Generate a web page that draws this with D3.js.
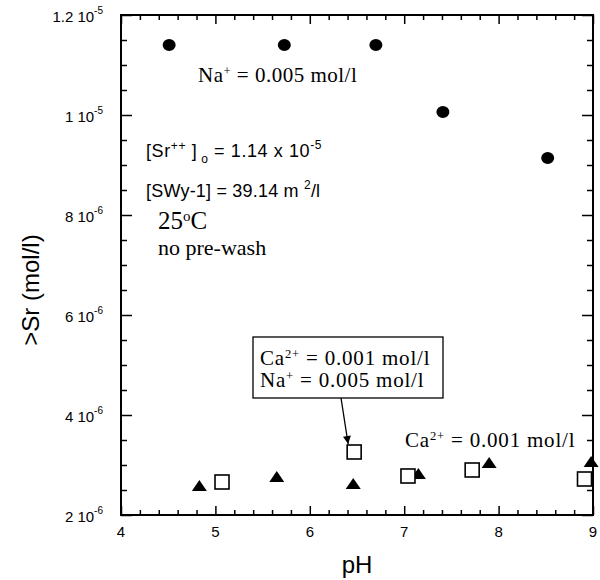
<!DOCTYPE html>
<html>
<head>
<meta charset="utf-8">
<script src="https://cdn.jsdelivr.net/npm/d3@7"></script>
<style>
  body { margin: 0; background: #fff; }
  text { fill: #000; }
</style>
</head>
<body>
<script>

// Na+ = 0.005 mol/l (filled circles)
var phCircle = [4.51, 5.73, 6.70, 7.41, 8.52];
var srCircle = [1.14e-5, 1.14e-5, 1.14e-5, 1.006e-5, 9.14e-6];

// Ca2+ = 0.001 mol/l (filled triangles)
var phTriangle = [4.83, 5.65, 6.46, 7.15, 7.90, 8.98];
var srTriangle = [2.58e-6, 2.76e-6, 2.62e-6, 2.82e-6, 3.04e-6, 3.06e-6];

// Ca2+ = 0.001 + Na+ = 0.005 (open squares)
var phSquare = [5.07, 6.47, 7.04, 7.72, 8.91];
var srSquare = [2.66e-6, 3.26e-6, 2.78e-6, 2.90e-6, 2.72e-6];

var xTicks = [4, 5, 6, 7, 8, 9];
var yTicks = [2e-6, 4e-6, 6e-6, 8e-6, 1e-5, 1.2e-5];
var yTickMant = ["2", "4", "6", "8", "1", "1.2"];
var yTickExp = ["-6", "-6", "-6", "-6", "-5", "-5"];

var margin = {top: 15, right: 7, bottom: 65, left: 121},
    width = 600 - margin.left - margin.right,
    height = 580 - margin.top - margin.bottom;

var sans = "'Liberation Sans', Arial, sans-serif";
var serif = "'Liberation Serif', 'Times New Roman', serif";

var x = d3.scaleLinear().domain([4, 9]).range([0, width]);
var y = d3.scaleLinear().domain([2e-6, 1.2e-5]).range([height, 0]);

var svg = d3.select("body").append("svg")
    .attr("width", 600)
    .attr("height", 580);

svg.append("defs").append("marker")
    .attr("id", "arrow")
    .attr("viewBox", "0 0 10 10")
    .attr("refX", 10).attr("refY", 5)
    .attr("markerWidth", 10).attr("markerHeight", 8)
    .attr("markerUnits", "userSpaceOnUse")
    .attr("orient", "auto")
  .append("path")
    .attr("d", "M0,0 L10,5 L0,10 Z")
    .attr("fill", "#000");

var g = svg.append("g")
    .attr("transform", "translate(" + margin.left + "," + margin.top + ")");

// minor tick values
var xMinor = d3.range(4, 9.001, 0.2).filter(function(v) { return Math.abs(v - Math.round(v)) > 1e-6; });
var yMinor = d3.range(2e-6, 1.2e-5 + 1e-12, 5e-7).filter(function(v) {
  return !yTicks.some(function(t) { return Math.abs(t - v) < 1e-12; });
});

function styleAxis(sel) {
  sel.select(".domain").remove();
  sel.selectAll("line").attr("stroke", "#000").attr("stroke-width", 1.5);
  sel.selectAll("text").remove();
}

// inward ticks on all four sides
g.append("g").attr("transform", "translate(0," + height + ")")
    .call(d3.axisBottom(x).tickValues(xTicks).tickSize(-9)).call(styleAxis);
g.append("g").attr("transform", "translate(0," + height + ")")
    .call(d3.axisBottom(x).tickValues(xMinor).tickSize(-5)).call(styleAxis);
g.append("g")
    .call(d3.axisTop(x).tickValues(xTicks).tickSize(-9)).call(styleAxis);
g.append("g")
    .call(d3.axisTop(x).tickValues(xMinor).tickSize(-5)).call(styleAxis);
g.append("g")
    .call(d3.axisLeft(y).tickValues(yTicks).tickSize(-11)).call(styleAxis);
g.append("g")
    .call(d3.axisLeft(y).tickValues(yMinor).tickSize(-6)).call(styleAxis);
g.append("g").attr("transform", "translate(" + width + ",0)")
    .call(d3.axisRight(y).tickValues(yTicks).tickSize(-11)).call(styleAxis);
g.append("g").attr("transform", "translate(" + width + ",0)")
    .call(d3.axisRight(y).tickValues(yMinor).tickSize(-6)).call(styleAxis);

g.append("rect")
    .attr("width", width).attr("height", height)
    .attr("fill", "none").attr("stroke", "#000").attr("stroke-width", 2);

// x tick labels
g.selectAll(".xlab").data(xTicks).enter().append("text")
    .attr("x", function(d) { return x(d); })
    .attr("y", height + 22)
    .attr("text-anchor", "middle")
    .attr("font-family", sans).attr("font-size", "15px")
    .text(function(d) { return d; });

// y tick labels with superscript exponents
var yl = g.selectAll(".ylab").data(yTicks).enter().append("text")
    .attr("x", -18)
    .attr("y", function(d) { return y(d) + 7; })
    .attr("text-anchor", "end")
    .attr("font-family", sans).attr("font-size", "15px");
yl.append("tspan").text(function(d, i) { return yTickMant[i] + " 10"; });
yl.append("tspan").attr("dy", -8).attr("font-size", "10px")
    .text(function(d, i) { return yTickExp[i]; });

// axis titles
g.append("text")
    .attr("x", width / 2)
    .attr("y", height + 58)
    .attr("text-anchor", "middle")
    .attr("font-family", sans).attr("font-size", "24px")
    .text("pH");

g.append("text")
    .attr("transform", "rotate(-90)")
    .attr("x", -height / 2 - 25)
    .attr("y", -82)
    .attr("text-anchor", "middle")
    .attr("font-family", sans).attr("font-size", "24px")
    .text(">Sr (mol/l)");

// markers
g.selectAll(".circ").data(phCircle).enter().append("ellipse")
    .attr("cx", function(d) { return x(d); })
    .attr("cy", function(d, i) { return y(srCircle[i]); })
    .attr("rx", 6.5).attr("ry", 6)
    .attr("fill", "#000");

g.selectAll(".tri").data(phTriangle).enter().append("path")
    .attr("transform", function(d, i) { return "translate(" + x(d) + "," + y(srTriangle[i]) + ")"; })
    .attr("d", "M0,-6 L7.5,5 L-7.5,5 Z")
    .attr("fill", "#000");

g.selectAll(".sq").data(phSquare).enter().append("rect")
    .attr("x", function(d) { return x(d) - 7; })
    .attr("y", function(d, i) { return y(srSquare[i]) - 7; })
    .attr("width", 14).attr("height", 14)
    .attr("fill", "#fff").attr("stroke", "#000").attr("stroke-width", 1.6);

// annotations
function serifLabel(px, py, size, parts, ls) {
  var t = g.append("text").attr("x", px).attr("y", py)
      .attr("font-family", serif).attr("font-size", size + "px")
      .attr("letter-spacing", (ls || 0) + "px");
  parts.forEach(function(p) {
    var s = t.append("tspan").text(p[0]);
    if (p[1] === "sup") s.attr("font-size", (size * 0.6) + "px").attr("dy", -size * 0.33);
    else if (p[1] === "down") s.attr("dy", size * 0.33);
  });
  return t;
}

serifLabel(77, 67, 21, [["Na"], ["+", "sup"], [" = 0.005 mol/l", "down"]], 0.5);

var sr = g.append("text").attr("x", 25).attr("y", 142)
    .attr("font-family", sans).attr("font-size", "18px")
    .attr("letter-spacing", "0.6px");
sr.append("tspan").text("[Sr");
sr.append("tspan").attr("font-size", "12px").attr("dy", -7).text("++");
sr.append("tspan").attr("dy", 7).text(" ]");
sr.append("tspan").attr("font-size", "12px").attr("dy", 6).text(" o");
sr.append("tspan").attr("dy", -6).text(" = 1.14 x 10");
sr.append("tspan").attr("font-size", "12px").attr("dy", -8).text("-5");

var sw = g.append("text").attr("x", 25).attr("y", 182)
    .attr("font-family", sans).attr("font-size", "18px")
    .attr("letter-spacing", "0.2px");
sw.append("tspan").text("[SWy-1] = 39.14 m  ");
sw.append("tspan").attr("font-size", "12px").attr("dy", -8).text("2");
sw.append("tspan").attr("dy", 8).text("/l");

serifLabel(37, 214, 25, [["25"], ["o", "sup"], ["C", "down"]]);
serifLabel(37, 240, 22, [["no pre-wash"]]);

g.append("rect")
    .attr("x", 132).attr("y", 322)
    .attr("width", 190).attr("height", 61)
    .attr("fill", "#fff").attr("stroke", "#000").attr("stroke-width", 1.3);
serifLabel(139, 350, 21, [["Ca"], ["2+", "sup"], [" = 0.001 mol/l", "down"]], 0.8);
serifLabel(139, 372, 21, [["Na"], ["+", "sup"], [" = 0.005 mol/l", "down"]], 0.8);

g.append("line")
    .attr("x1", 220).attr("y1", 383)
    .attr("x2", x(phSquare[1]) - 6).attr("y2", y(srSquare[1]) - 8)
    .attr("stroke", "#000").attr("stroke-width", 1.3)
    .attr("marker-end", "url(#arrow)");

serifLabel(284, 432, 21, [["Ca"], ["2+", "sup"], [" = 0.001 mol/l", "down"]], 0.8);

</script>
</body>
</html>
